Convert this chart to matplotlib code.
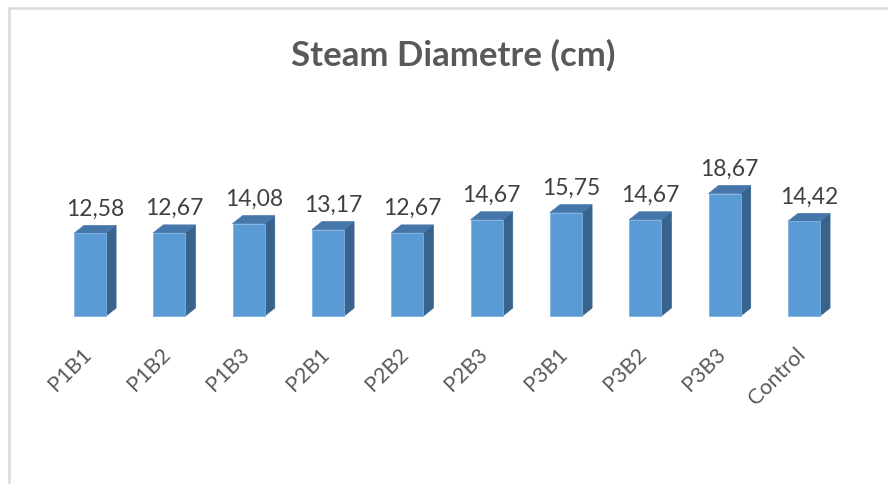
import matplotlib
matplotlib.use("Agg")
import matplotlib.pyplot as plt
from matplotlib.patches import Polygon, Rectangle

categories = ["P1B1", "P1B2", "P1B3", "P2B1", "P2B2", "P2B3", "P3B1", "P3B2", "P3B3", "Control"]
values = [12.58, 12.67, 14.08, 13.17, 12.67, 14.67, 15.75, 14.67, 18.67, 14.42]
value_labels = ["12,58", "12,67", "14,08", "13,17", "12,67", "14,67", "15,75", "14,67", "18,67", "14,42"]
title = "Steam Diametre (cm)"

FRONT = "#5B9BD5"
TOP = "#4677AB"
SIDE = "#37638C"
TEXT = "#595959"
FONT = "Lato"

W, H, DPI = 888, 485, 100
fig = plt.figure(figsize=(W / DPI, H / DPI), dpi=DPI)

# chart frame (light gray)
fig.patches.append(Rectangle((9 / W, -0.2), 2.0, (H - 9) / H + 0.2, transform=fig.transFigure,
                             fill=False, edgecolor="#D9D9D9", linewidth=1.8, zorder=0))

# axes placement (pixels)
left_px, right_px = 50.35, 843.65
base_px, top_px = 317, 153
ax = fig.add_axes([left_px / W, (H - base_px) / H, (right_px - left_px) / W, (base_px - top_px) / H])
ymax = 25
ax.set_xlim(-0.5, len(categories) - 0.5)
ax.set_ylim(0, ymax)
ax.axis("off")
ax.set_facecolor("none")

bar_w = 0.405
# depth offsets in pixel -> data units via axis scale
px_per_x = (right_px - left_px) / len(categories)
px_per_y = (base_px - top_px) / ymax
ddx = 10 / px_per_x
ddy = 8 / px_per_y

x = list(range(len(categories)))
ax.bar(x, values, width=bar_w, color=FRONT, edgecolor="#7FB2E0", linewidth=0.6, zorder=3, clip_on=False)
for xi, v in zip(x, values):
    xl, xr = xi - bar_w / 2, xi + bar_w / 2
    side = Polygon([(xr, 0), (xr + ddx, ddy), (xr + ddx, v + ddy), (xr, v)], closed=True,
                   facecolor=SIDE, edgecolor=SIDE, linewidth=0.5, zorder=2, clip_on=False)
    top = Polygon([(xl, v), (xl + ddx, v + ddy), (xr + ddx, v + ddy), (xr, v)], closed=True,
                  facecolor=TOP, edgecolor=TOP, linewidth=0.5, zorder=2, clip_on=False)
    ax.add_patch(side)
    ax.add_patch(top)

for xi, v, lab in zip(x, values, value_labels):
    ax.annotate(lab, xy=(xi + ddx / 2, v + ddy), xytext=(0, 5), textcoords="offset points",
                ha="center", va="bottom", fontsize=16.5, color="#404040", family=FONT)

for xi, cat in zip(x, categories):
    ax.annotate(cat, xy=(xi, 0), xytext=(-6.5, -19.5), textcoords="offset points",
                ha="right", va="top", rotation=45, rotation_mode="anchor",
                fontsize=15.5, color=TEXT, family=FONT)

fig.text(453 / W, 1 - 55 / H, title, ha="center", va="center", fontsize=25,
         fontweight="bold", color=TEXT, family=FONT)

fig.savefig("out.png", dpi=DPI, facecolor="white")
